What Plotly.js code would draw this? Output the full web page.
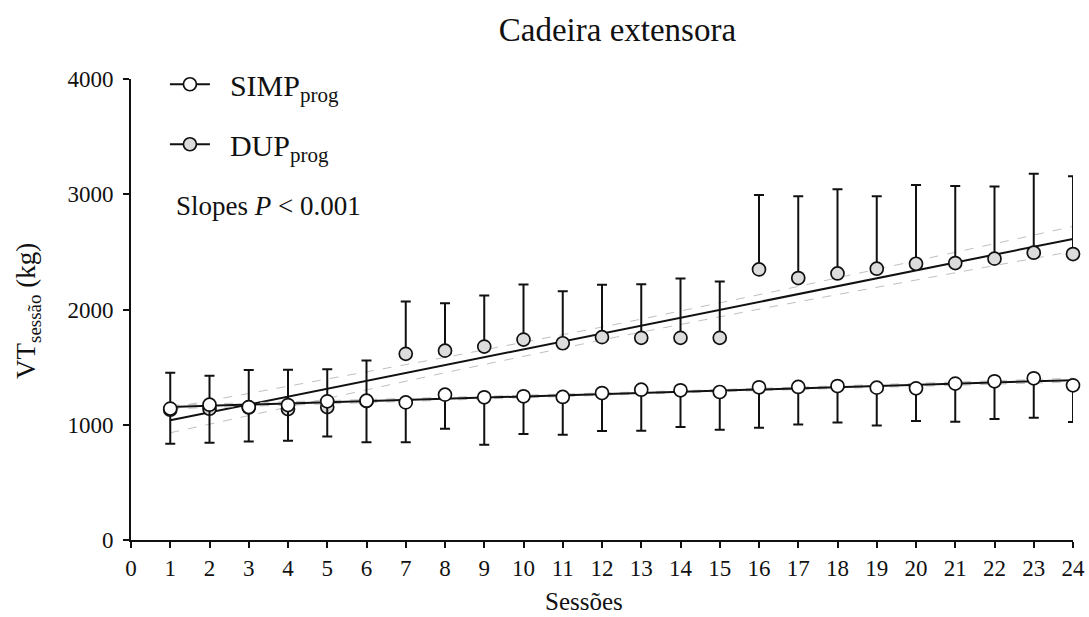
<!DOCTYPE html>
<html>
<head>
<meta charset="utf-8">
<script src="https://cdn.plot.ly/plotly-3.0.1.min.js"></script>
<style>html,body{margin:0;padding:0;background:#fff;}</style>
</head>
<body>
<div id="chart" style="width:1089px;height:617px;"></div>
<script>
// ---- Data ----
const sessions = [1,2,3,4,5,6,7,8,9,10,11,12,13,14,15,16,17,18,19,20,21,22,23,24];
const simpMean = [1140,1174,1153,1171,1203,1209,1194,1261,1238,1247,1241,1275,1304,1299,1284,1325,1328,1336,1322,1316,1357,1377,1403,1342];
const simpSD   = [305,331,298,310,305,360,345,296,412,328,328,330,356,319,327,351,325,316,328,284,331,327,342,319];
const dupMean  = [1130,1139,1150,1136,1153,1205,1615,1643,1678,1739,1707,1760,1754,1754,1754,2348,2273,2313,2354,2397,2403,2441,2493,2481];
const dupSD    = [322,287,325,342,328,352,455,412,444,478,452,455,466,516,489,646,710,730,629,684,669,626,684,676];
const xTicks = [0,1,2,3,4,5,6,7,8,9,10,11,12,13,14,15,16,17,18,19,20,21,22,23,24];
const yTicks = [0,1000,2000,3000,4000];
const seriesNames = ['SIMP<sub>prog</sub>', 'DUP<sub>prog</sub>'];

const FONT = 'Liberation Serif, Times New Roman, serif';
const zeros = sessions.map(() => 0);

// Linear regression with 95% confidence band
function linFit(x, y) {
  const n = x.length;
  const mx = x.reduce((a, b) => a + b, 0) / n;
  const my = y.reduce((a, b) => a + b, 0) / n;
  let sxx = 0, sxy = 0;
  for (let i = 0; i < n; i++) { sxx += (x[i]-mx)**2; sxy += (x[i]-mx)*(y[i]-my); }
  const b = sxy / sxx, a = my - b * mx;
  let sse = 0;
  for (let i = 0; i < n; i++) sse += (y[i] - (a + b*x[i]))**2;
  const s = Math.sqrt(sse / (n - 2));
  const t = 2.074; // t(0.975, df=22)
  const x0 = Math.min(...x), x1 = Math.max(...x);
  const gx = [], lo = [], hi = [];
  const steps = 60;
  for (let k = 0; k <= steps; k++) {
    const xv = x0 + (x1 - x0) * k / steps;
    const yv = a + b * xv;
    const se = s * Math.sqrt(1/n + (xv-mx)**2 / sxx);
    gx.push(xv); lo.push(yv - t*se); hi.push(yv + t*se);
  }
  return { line: { x: [x0, x1], y: [a + b*x0, a + b*x1] }, gx, lo, hi };
}

const fitS = linFit(sessions, simpMean);
const fitD = linFit(sessions, dupMean);

function fitTraces(f) {
  const dash = { color: '#c0c0c0', width: 1, dash: 'dash' };
  return [
    { x: f.gx, y: f.lo, mode: 'lines', line: dash, showlegend: false, hoverinfo: 'skip', cliponaxis: false },
    { x: f.gx, y: f.hi, mode: 'lines', line: dash, showlegend: false, hoverinfo: 'skip', cliponaxis: false },
    { x: f.line.x, y: f.line.y, mode: 'lines', line: { color: '#111', width: 2 }, showlegend: false, hoverinfo: 'skip', cliponaxis: false }
  ];
}

const markerLine = { color: '#111', width: 1.7 };
const traces = [
  ...fitTraces(fitD),
  ...fitTraces(fitS),
  { x: sessions, y: dupMean, mode: 'markers', name: seriesNames[1], showlegend: false, cliponaxis: false,
    marker: { size: 13, color: '#dcdcdc', line: markerLine },
    error_y: { type: 'data', symmetric: false, array: dupSD, arrayminus: zeros, color: '#111', thickness: 2, width: 5 } },
  { x: sessions, y: simpMean, mode: 'markers', name: seriesNames[0], showlegend: false, cliponaxis: false,
    marker: { size: 13, color: '#ffffff', line: markerLine },
    error_y: { type: 'data', symmetric: false, array: zeros, arrayminus: simpSD, color: '#111', thickness: 2, width: 5 } },
  // legend entries
  { x: [null], y: [null], mode: 'lines+markers', name: '\u00a0\u00a0' + seriesNames[0], legendgroup: 'a',
    line: { color: '#111', width: 2 }, marker: { size: 13, color: '#ffffff', line: markerLine } },
  { x: [null], y: [null], mode: 'lines+markers', name: '\u00a0\u00a0' + seriesNames[1], legendgroup: 'b',
    line: { color: '#111', width: 2 }, marker: { size: 13, color: '#dcdcdc', line: markerLine } }
];

const layout = {
  width: 1089, height: 617,
  margin: { l: 131, r: 16, t: 79, b: 77 },
  paper_bgcolor: '#fff', plot_bgcolor: '#fff',
  font: { family: FONT, color: '#111', size: 20 },
  title: { text: 'Cadeira extensora', font: { family: FONT, size: 33, color: '#111' },
           xref: 'container', x: 0.567, xanchor: 'center', yref: 'container', y: 0.953, yanchor: 'middle' },
  xaxis: {
    range: [0, 24], tickvals: xTicks, ticktext: xTicks.map(String),
    showgrid: false, zeroline: false, showline: true, linecolor: '#111', linewidth: 2,
    ticks: 'outside', ticklen: 6, tickwidth: 2, tickcolor: '#111',
    tickfont: { family: FONT, size: 23, color: '#111' }
  },
  yaxis: {
    range: [0, 4000], tickvals: yTicks, ticktext: yTicks.map(String),
    showgrid: false, zeroline: false, showline: true, linecolor: '#111', linewidth: 2,
    ticks: 'outside', ticklen: 6, tickwidth: 2, tickcolor: '#111', ticklabelstandoff: 5,
    tickfont: { family: FONT, size: 23, color: '#111' }
  },
  showlegend: true,
  legend: { x: 0.036, xanchor: 'left', y: 1.045, yanchor: 'top', bgcolor: 'rgba(0,0,0,0)',
            font: { family: FONT, size: 30, color: '#111' }, tracegroupgap: 18, itemwidth: 40 },
  annotations: [
    { text: 'Slopes <i>P</i> < 0.001', xref: 'paper', yref: 'paper', x: 0.046, y: 0.725,
      xanchor: 'left', yanchor: 'middle', showarrow: false, font: { family: FONT, size: 27, color: '#111' } },
    { text: 'Sessões', xref: 'paper', yref: 'paper', x: (584 - 131) / 942, y: -0.134,
      xanchor: 'center', yanchor: 'middle', showarrow: false, font: { family: FONT, size: 25, color: '#111' } },
    { text: 'VT<sub>sessão</sub> (kg)', xref: 'paper', yref: 'paper', x: (28 - 131) / 942, y: 0.497,
      xanchor: 'center', yanchor: 'middle', textangle: -90, showarrow: false, font: { family: FONT, size: 27, color: '#111' } }
  ]
};

Plotly.newPlot('chart', traces, layout, { displayModeBar: false, staticPlot: true });
</script>
</body>
</html>
